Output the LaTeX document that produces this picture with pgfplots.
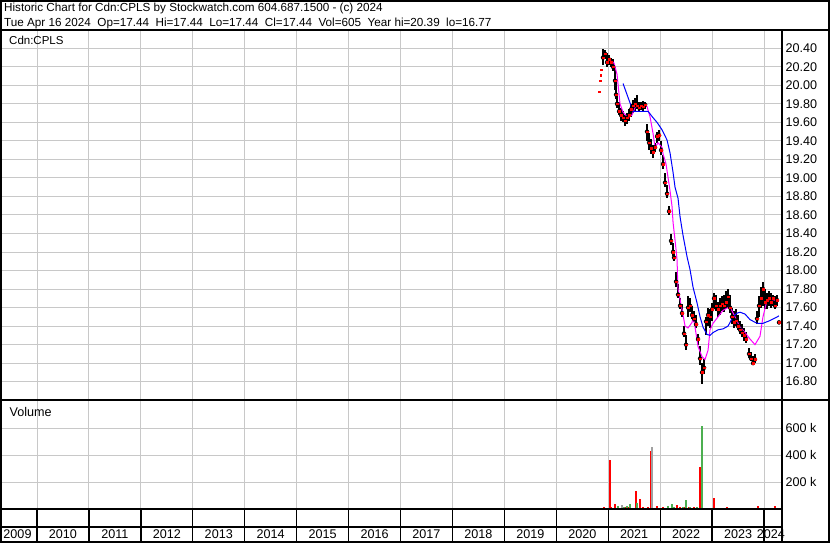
\documentclass[border=0pt]{standalone}
\usepackage{pgfplots}
\pgfplotsset{compat=1.18}
\usepackage{pgfplotstable}
\usepackage{fontspec}
\setmainfont{Liberation Sans}
\definecolor{gridgray}{RGB}{200,200,200}
\definecolor{volgreen}{RGB}{76,175,80}
\definecolor{volgray}{RGB}{160,160,160}
\definecolor{mamag}{RGB}{255,0,255}

\pgfplotstableread{
x lo hi c
2020.900 20.22 20.39 20.30
2020.938 20.28 20.38 20.34
2020.977 20.20 20.35 20.25
2021.015 20.22 20.33 20.28
2021.054 20.20 20.30 20.25
2021.092 20.15 20.28 20.20
2021.131 19.95 20.20 20.05
2021.150 19.85 20.05 19.90
2021.169 19.75 19.90 19.80
2021.208 19.68 19.82 19.72
2021.246 19.62 19.76 19.68
2021.285 19.60 19.72 19.65
2021.323 19.56 19.68 19.62
2021.362 19.58 19.70 19.65
2021.400 19.62 19.74 19.68
2021.439 19.66 19.80 19.74
2021.477 19.70 19.84 19.78
2021.516 19.72 19.86 19.80
2021.554 19.74 19.90 19.78
2021.593 19.72 19.82 19.76
2021.632 19.73 19.82 19.78
2021.670 19.72 19.83 19.77
2021.709 19.74 19.82 19.79
2021.747 19.40 19.58 19.50
2021.786 19.30 19.48 19.38
2021.824 19.26 19.42 19.32
2021.863 19.22 19.36 19.28
2021.901 19.28 19.38 19.33
2021.940 19.38 19.50 19.45
2021.979 19.40 19.52 19.46
2022.017 19.25 19.40 19.30
2022.055 19.10 19.25 19.15
2022.094 18.90 19.05 18.95
2022.132 18.78 18.92 18.83
2022.171 18.60 18.70 18.64
2022.209 18.28 18.40 18.32
2022.248 18.16 18.30 18.20
2022.267 18.10 18.22 18.14
2022.306 17.82 17.98 17.88
2022.344 17.70 17.85 17.74
2022.383 17.58 17.70 17.62
2022.421 17.50 17.64 17.54
2022.460 17.28 17.40 17.32
2022.498 17.14 17.30 17.20
2022.537 17.50 17.72 17.60
2022.575 17.55 17.70 17.62
2022.614 17.48 17.62 17.52
2022.652 17.44 17.56 17.48
2022.691 17.38 17.52 17.42
2022.729 17.20 17.32 17.26
2022.768 16.98 17.18 17.05
2022.806 16.77 17.00 16.90
2022.845 16.88 17.05 16.95
2022.883 17.30 17.50 17.45
2022.922 17.40 17.60 17.52
2022.960 17.38 17.58 17.50
2022.999 17.45 17.65 17.58
2023.037 17.58 17.76 17.70
2023.076 17.56 17.74 17.62
2023.114 17.50 17.66 17.58
2023.153 17.52 17.70 17.62
2023.191 17.56 17.72 17.64
2023.230 17.55 17.74 17.62
2023.268 17.58 17.78 17.66
2023.307 17.60 17.80 17.72
2023.345 17.54 17.74 17.60
2023.384 17.42 17.60 17.50
2023.422 17.38 17.56 17.44
2023.461 17.40 17.58 17.46
2023.499 17.36 17.52 17.40
2023.538 17.32 17.46 17.36
2023.576 17.28 17.42 17.33
2023.615 17.24 17.38 17.30
2023.653 17.22 17.34 17.26
2023.711 17.06 17.16 17.10
2023.749 17.02 17.12 17.05
2023.788 16.98 17.08 17.00
2023.826 17.00 17.10 17.04
2023.865 17.42 17.56 17.48
2023.903 17.50 17.72 17.62
2023.942 17.60 17.82 17.70
2023.980 17.62 17.88 17.80
2024.019 17.58 17.80 17.66
2024.057 17.58 17.76 17.68
2024.096 17.62 17.78 17.70
2024.134 17.60 17.76 17.66
2024.173 17.62 17.74 17.70
2024.211 17.58 17.72 17.62
2024.250 17.62 17.74 17.68
2024.288 17.44 17.44 17.44
}\pricedata

\pgfplotstableread{
x c
2020.823 19.93
2020.842 20.05
2020.852 20.11
2020.861 20.17
}\earlydots

\pgfplotstableread{
x y
2021.054 20.27
2021.112 20.24
2021.169 20.12
2021.227 19.80
2021.285 19.71
2021.381 19.65
2021.458 19.68
2021.516 19.76
2021.574 19.77
2021.709 19.79
2021.747 19.77
2021.805 19.66
2021.863 19.48
2021.901 19.33
2021.959 19.38
2022.036 19.33
2022.055 19.26
2022.113 19.15
2022.190 18.86
2022.229 18.69
2022.248 18.52
2022.286 18.33
2022.325 18.12
2022.334 17.94
2022.344 17.80
2022.421 17.58
2022.479 17.40
2022.537 17.38
2022.614 17.44
2022.633 17.50
2022.671 17.39
2022.729 17.18
2022.806 17.07
2022.864 17.04
2022.922 17.14
2022.960 17.36
2023.018 17.43
2023.114 17.50
2023.210 17.57
2023.307 17.60
2023.345 17.61
2023.441 17.50
2023.538 17.39
2023.634 17.33
2023.730 17.26
2023.826 17.20
2023.922 17.29
2023.980 17.50
2024.057 17.68
2024.173 17.68
2024.269 17.68
}\mashort

\pgfplotstableread{
x y
2021.285 20.02
2021.381 19.87
2021.458 19.75
2021.477 19.72
2021.670 19.72
2021.766 19.72
2021.863 19.65
2021.940 19.60
2022.036 19.52
2022.132 19.41
2022.190 19.27
2022.248 19.06
2022.286 18.90
2022.344 18.78
2022.383 18.58
2022.440 18.38
2022.517 18.15
2022.575 18.01
2022.633 17.82
2022.710 17.65
2022.768 17.50
2022.825 17.39
2022.902 17.31
2022.960 17.30
2023.018 17.33
2023.114 17.36
2023.210 17.37
2023.307 17.40
2023.403 17.50
2023.480 17.54
2023.538 17.55
2023.634 17.53
2023.730 17.47
2023.865 17.43
2023.980 17.43
2024.115 17.46
2024.288 17.51
}\malong

\pgfplotstableread{
x v
2020.861 8000
2020.919 12000
2021.025 364000
2021.054 18000
2021.131 37000
2021.208 10000
2021.323 12000
2021.381 15000
2021.529 136000
2021.612 74000
2021.670 15000
2021.766 12000
2021.818 434000
2021.882 10000
2021.940 22000
2022.055 12000
2022.132 10000
2022.319 30000
2022.383 15000
2022.460 12000
2022.556 12000
2022.652 15000
2022.768 315000
2022.845 10000
2022.922 10000
2023.037 79000
2023.114 10000
2023.191 10000
2023.287 15000
2023.364 10000
2023.441 8000
2023.538 10000
2023.634 8000
2023.711 10000
2023.788 8000
2023.884 22000
2023.961 10000
2024.038 8000
2024.115 10000
2024.211 22000
2024.269 10000
}\volred

\pgfplotstableread{
x v
2020.823 8000
2020.900 10000
2021.183 22000
2021.304 18000
2021.362 22000
2021.420 37000
2021.549 45000
2021.728 10000
2022.152 22000
2022.229 37000
2022.267 18000
2022.440 15000
2022.498 67000
2022.575 15000
2022.710 12000
2022.806 617000
2022.979 10000
2023.076 10000
2023.153 10000
2023.249 10000
2023.403 10000
2023.480 10000
2023.595 8000
2023.672 10000
2023.846 8000
2024.019 10000
2024.154 8000
}\volgreen

\pgfplotstableread{
x v
2021.260 30000
2021.843 463000
}\volgray

\begin{document}
\begin{tikzpicture}[x=1pt,y=1pt]
\path[use as bounding box] (0,0) rectangle (830,543);
\pgfplotsset{
  panel/.style={scale only axis, width=780pt, xmin=2009.326, xmax=2024.346,
    axis line style={draw=none}, tick style={draw=none}, major tick length=0pt,
    grid style={gridgray, line width=1pt},
    /pgf/number format/assume math mode=true,
    ticklabel style={font=\fontsize{12.6}{14}\selectfont}}
}
% price panel
\begin{axis}[panel, at={(2pt,143pt)}, anchor=south west, height=369pt,
  ymin=16.602, ymax=20.587,
  xtick={2010,2011,...,2024}, xticklabels={},
  ytick={16.8,17.0,17.2,17.4,17.6,17.8,18.0,18.2,18.4,18.6,18.8,19.0,19.2,19.4,19.6,19.8,20.0,20.2,20.4},
  yticklabel pos=right, xmajorgrids, ymajorgrids,
  yticklabel style={/pgf/number format/fixed, /pgf/number format/fixed zerofill, /pgf/number format/precision=2}]
\addplot[only marks, mark=none, error bars/.cd, y dir=both, y explicit, error mark=none,
  error bar style={black, line width=1.2pt}]
  table[x=x, y=c, y error plus expr=\thisrow{hi}-\thisrow{c}, y error minus expr=\thisrow{c}-\thisrow{lo}] {\pricedata};
\addplot[mamag, line width=1pt, no marks] table[x=x, y=y] {\mashort};
\addplot[blue, line width=1pt, no marks] table[x=x, y=y] {\malong};
\addplot[only marks, mark=square*, mark size=0.75pt, red] table[x=x, y=c] {\pricedata};
\addplot[only marks, mark=square*, mark size=0.75pt, red] table[x=x, y=c] {\earlydots};
\end{axis}
% volume panel
\begin{axis}[panel, at={(2pt,34pt)}, anchor=south west, height=108pt,
  ymin=0, ymax=803000, scaled y ticks=false,
  xtick={2010,2011,...,2024}, xticklabels={},
  ytick={200000,400000,600000}, yticklabels={200 k,400 k,600 k},
  yticklabel pos=right, xmajorgrids, ymajorgrids]
\addplot[ycomb, red, line width=2pt, no marks] table[x=x, y=v] {\volred};
\addplot[ycomb, volgreen, line width=2pt, no marks] table[x=x, y=v] {\volgreen};
\addplot[ycomb, volgray, line width=2pt, no marks] table[x=x, y=v] {\volgray};
\end{axis}
% year strip
\begin{axis}[panel, at={(2pt,2pt)}, anchor=south west, height=32pt,
  ymin=0, ymax=1, ytick=\empty,
  xtick={2010,2011,...,2024}, xticklabels={},
  xmajorgrids, grid style={black, line width=1.3pt},
  extra x ticks={2009.6245,2010.5,2011.5,2012.5,2013.5,2014.5,2015.5,2016.5,2017.5,2018.5,2019.5,2020.5,2021.5,2022.5,2023.5,2024.13},
  extra x tick labels={2009,2010,2011,2012,2013,2014,2015,2016,2017,2018,2019,2020,2021,2022,2023,2024},
  extra x tick style={grid=none, major tick length=0pt, xticklabel style={anchor=center, yshift=7pt}}]
\addplot[draw=none, no marks] coordinates {(2010,0.5) (2011,0.5)};
\end{axis}
% frame and separators
\draw[line width=2pt] (1,1) rectangle (829,542);
\draw[line width=2pt] (0,513) -- (830,513);
\draw[line width=2pt] (782,0) -- (782,513);
\draw[line width=2pt] (0,142.5) -- (830,142.5);
\draw[line width=2pt] (0,33.5) -- (782,33.5);
\draw[line width=2pt] (0,16) -- (782,16);
% titles
\node[anchor=base west, inner sep=0pt, font=\fontsize{11.7}{14}\selectfont] at (4,531)
  {Historic Chart for Cdn:CPLS by Stockwatch.com 604.687.1500 - (c) 2024};
\node[anchor=base west, inner sep=0pt, font=\fontsize{11.7}{14}\selectfont] at (4,516.3)
  {Tue Apr 16 2024\ \ Op=17.44\ \ Hi=17.44\ \ Lo=17.44\ \ Cl=17.44\ \ Vol=605\ \ Year hi=20.39\ \ lo=16.77};
\node[anchor=base west, inner sep=0pt, font=\fontsize{11.5}{14}\selectfont] at (9,498) {Cdn:CPLS};
\node[anchor=base west, inner sep=0pt, font=\fontsize{12.6}{14}\selectfont] at (9.5,126) {Volume};
\end{tikzpicture}
\end{document}
